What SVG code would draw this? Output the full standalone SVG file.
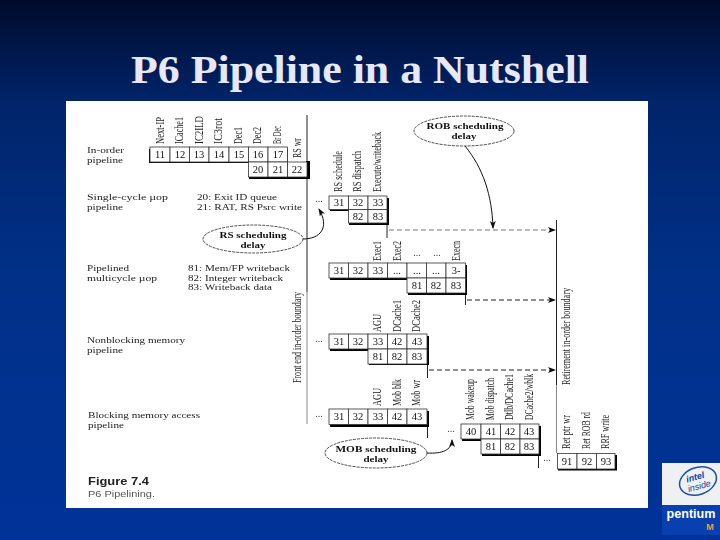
<svg xmlns="http://www.w3.org/2000/svg" width="720" height="540" viewBox="0 0 720 540">
<style>
.l{font-family:"Liberation Serif",serif;font-size:12px;fill:#222}
.r{font-family:"Liberation Serif",serif;font-size:8.700px;fill:#222}
.n{font-family:"Liberation Serif",serif;font-size:10.500px;fill:#111;text-anchor:middle}
.e{font-family:"Liberation Serif",serif;font-size:8.700px;font-weight:bold;fill:#111;text-anchor:middle}
.d{font-family:"Liberation Serif",serif;font-size:10px;fill:#444;text-anchor:middle}
.c{fill:#fff;stroke:#333;stroke-width:.8}
.s{fill:#000}
.line{stroke:#222;stroke-width:1;fill:none}
.grey{stroke:#888;stroke-width:1;fill:none}
.dash{stroke:#222;stroke-width:1;stroke-dasharray:5 3;fill:none}
.dashg{stroke:#777;stroke-width:1;stroke-dasharray:5 3;fill:none}
.curve{stroke:#111;stroke-width:1;fill:none}
.el{fill:#fff;stroke:#222;stroke-width:.8;stroke-dasharray:3 1}
</style>
<defs>
<linearGradient id="bg" x1="0" y1="0" x2="0" y2="1">
<stop offset="0" stop-color="#000b2c"/><stop offset=".19" stop-color="#01246a"/><stop offset=".5" stop-color="#003087"/><stop offset="1" stop-color="#003399"/>
</linearGradient>
<marker id="a" markerWidth="8" markerHeight="6" refX="7" refY="3" orient="auto" markerUnits="userSpaceOnUse"><path d="M0 0L8 3L0 6L2 3Z" fill="#111"/></marker>
<filter id="soft" x="0" y="0" width="1" height="1"><feGaussianBlur stdDeviation=".35"/></filter>
</defs>
<rect width="720" height="540" fill="url(#bg)"/>
<rect x="66" y="101" width="582" height="407" fill="#fff"/>
<text x="360" y="83" text-anchor="middle" font-family="Liberation Serif,serif" font-weight="bold" font-size="41" fill="#e6e8f8" textLength="458" lengthAdjust="spacingAndGlyphs">P6 Pipeline in a Nutshell</text>
<g filter="url(#soft)">
<g id="connectors">
<path class="line" d="M307 115V292"/>
<path class="grey" d="M307 292V424"/>
<path class="line" d="M556.500 220V385"/>
<path class="grey" d="M556.500 385V453"/>
<path class="line" d="M387 223V238M465.500 293V305M427.500 364V378M427.500 425V438M538.500 454V468"/>
<path class="dashg" d="M389 230H555" marker-end="url(#a)"/>
<path class="dash" d="M467 300H555" marker-end="url(#a)"/>
<path class="dash" d="M429 370H555" marker-end="url(#a)"/>
<path class="curve" d="M465 146C483 168 492 195 493 228" marker-end="url(#a)"/>
<path class="curve" d="M303 239C320 239 330 228 319 209" marker-end="url(#a)"/>
<path class="curve" d="M427 453C442 454 452 450 452 440" marker-end="url(#a)"/>
</g>
<g id="labels-left">
<text class="r" x="87" y="153" textLength="37" lengthAdjust="spacingAndGlyphs">In-order</text>
<text class="r" x="87" y="163" textLength="36" lengthAdjust="spacingAndGlyphs">pipeline</text>
<text class="r" x="87" y="200" textLength="81" lengthAdjust="spacingAndGlyphs">Single-cycle µop</text>
<text class="r" x="87" y="210" textLength="36" lengthAdjust="spacingAndGlyphs">pipeline</text>
<text class="r" x="197" y="200" textLength="80" lengthAdjust="spacingAndGlyphs">20: Exit ID queue</text>
<text class="r" x="197" y="210" textLength="105" lengthAdjust="spacingAndGlyphs">21: RAT, RS Psrc write</text>
<text class="r" x="87" y="271" textLength="42" lengthAdjust="spacingAndGlyphs">Pipelined</text>
<text class="r" x="87" y="281" textLength="70" lengthAdjust="spacingAndGlyphs">multicycle µop</text>
<text class="r" x="188" y="271" textLength="102" lengthAdjust="spacingAndGlyphs">81: Mem/FP writeback</text>
<text class="r" x="188" y="280.500" textLength="95" lengthAdjust="spacingAndGlyphs">82: Integer writeback</text>
<text class="r" x="188" y="290" textLength="84" lengthAdjust="spacingAndGlyphs">83: Writeback data</text>
<text class="r" x="87" y="343" textLength="98" lengthAdjust="spacingAndGlyphs">Nonblocking memory</text>
<text class="r" x="87" y="353" textLength="36" lengthAdjust="spacingAndGlyphs">pipeline</text>
<text class="r" x="88" y="418" textLength="112" lengthAdjust="spacingAndGlyphs">Blocking memory access</text>
<text class="r" x="88" y="428" textLength="36" lengthAdjust="spacingAndGlyphs">pipeline</text>
<text x="88" y="485" font-family="Liberation Sans,sans-serif" font-weight="bold" font-size="11" fill="#222" textLength="61" lengthAdjust="spacingAndGlyphs">Figure 7.4</text>
<text x="88" y="497" font-family="Liberation Sans,sans-serif" font-size="9" fill="#555" textLength="67" lengthAdjust="spacingAndGlyphs">P6 Pipelining.</text>
<text class="l" transform="translate(301 383) rotate(-90)" textLength="91" lengthAdjust="spacingAndGlyphs">Front end in-order boundary</text>
<text class="l" transform="translate(570 385) rotate(-90)" textLength="97" lengthAdjust="spacingAndGlyphs">Retirement in-order boundary</text>
</g>
<g id="node-inorder">
<rect class="s" x="149" y="149" width="139" height="14"/><rect class="s" x="249" y="163" width="61" height="16"/>
<rect class="s" x="306" y="161" width="4" height="18"/>
<g><rect class="c" x="150" y="147" width="20" height="15"/><rect class="c" x="170" y="147" width="19.500" height="15"/><rect class="c" x="189.500" y="147" width="19.500" height="15"/><rect class="c" x="209" y="147" width="20" height="15"/><rect class="c" x="229" y="147" width="19.500" height="15"/><rect class="c" x="248.500" y="147" width="19.500" height="15"/><rect class="c" x="268" y="147" width="19.500" height="15"/><rect class="c" x="248.500" y="162" width="19.500" height="15"/><rect class="c" x="268" y="162" width="19.500" height="15"/><rect class="c" x="287.500" y="162" width="19.500" height="15"/></g>
<text class="n" x="160" y="158">11</text><text class="n" x="180" y="158">12</text><text class="n" x="199" y="158">13</text><text class="n" x="219" y="158">14</text><text class="n" x="239" y="158">15</text><text class="n" x="258" y="158">16</text><text class="n" x="278" y="158">17</text>
<text class="n" x="258" y="173">20</text><text class="n" x="278" y="173">21</text><text class="n" x="297" y="173">22</text>
<text class="l" transform="translate(164 144) rotate(-90)" textLength="27" lengthAdjust="spacingAndGlyphs">Next-IP</text>
<text class="l" transform="translate(183 144) rotate(-90)" textLength="27" lengthAdjust="spacingAndGlyphs">ICache1</text>
<text class="l" transform="translate(203 144) rotate(-90)" textLength="28" lengthAdjust="spacingAndGlyphs">IC2ILD</text>
<text class="l" transform="translate(222 144) rotate(-90)" textLength="26" lengthAdjust="spacingAndGlyphs">IC3rot</text>
<text class="l" transform="translate(242 144) rotate(-90)" textLength="17" lengthAdjust="spacingAndGlyphs">Dec1</text>
<text class="l" transform="translate(261 144) rotate(-90)" textLength="17" lengthAdjust="spacingAndGlyphs">Dec2</text>
<text class="l" transform="translate(281 144) rotate(-90)" textLength="18" lengthAdjust="spacingAndGlyphs">Br Dec</text>
<text class="l" transform="translate(301 158) rotate(-90)" textLength="20" lengthAdjust="spacingAndGlyphs">RS wr</text>
</g>
<g id="node-single-cycle">
<text class="d" x="319" y="202">...</text>
<rect class="s" x="330" y="198" width="59" height="13"/><rect class="s" x="349" y="211" width="40" height="14"/>
<rect class="c" x="329" y="196" width="19.500" height="13.500"/><rect class="c" x="348.500" y="196" width="19.500" height="13.500"/><rect class="c" x="368" y="196" width="19" height="13.500"/><rect class="c" x="348.500" y="209.500" width="19.500" height="13.500"/><rect class="c" x="368" y="209.500" width="19" height="13.500"/>
<text class="n" x="339" y="206">31</text><text class="n" x="358" y="206">32</text><text class="n" x="378" y="206">33</text><text class="n" x="358" y="220">82</text><text class="n" x="378" y="220">83</text>
<text class="l" transform="translate(342 192) rotate(-90)" textLength="41" lengthAdjust="spacingAndGlyphs">RS schedule</text>
<text class="l" transform="translate(361 192) rotate(-90)" textLength="41" lengthAdjust="spacingAndGlyphs">RS dispatch</text>
<text class="l" transform="translate(381 192) rotate(-90)" textLength="60" lengthAdjust="spacingAndGlyphs">Execute/writeback</text>
</g>
<g id="node-multicycle">
<rect class="s" x="330" y="265" width="137" height="15"/><rect class="s" x="408" y="278" width="59" height="17"/>
<rect class="c" x="329" y="263" width="19.500" height="15"/><rect class="c" x="348.500" y="263" width="19.500" height="15"/><rect class="c" x="368" y="263" width="19.500" height="15"/><rect class="c" x="387.500" y="263" width="19.500" height="15"/><rect class="c" x="407" y="263" width="19.500" height="15"/><rect class="c" x="426.500" y="263" width="19.500" height="15"/><rect class="c" x="446" y="263" width="19.500" height="15"/><rect class="c" x="407" y="278" width="19.500" height="15"/><rect class="c" x="426.500" y="278" width="19.500" height="15"/><rect class="c" x="446" y="278" width="19.500" height="15"/>
<text class="n" x="339" y="274">31</text><text class="n" x="358" y="274">32</text><text class="n" x="378" y="274">33</text><text class="n" x="397" y="274">...</text><text class="n" x="417" y="274">...</text><text class="n" x="436" y="274">...</text><text class="n" x="456" y="274">3-</text>
<text class="n" x="417" y="289">81</text><text class="n" x="436" y="289">82</text><text class="n" x="456" y="289">83</text>
<text class="l" transform="translate(381 261) rotate(-90)" textLength="20" lengthAdjust="spacingAndGlyphs">Exec1</text>
<text class="l" transform="translate(401 261) rotate(-90)" textLength="20" lengthAdjust="spacingAndGlyphs">Exec2</text>
<text class="d" x="417" y="256">...</text><text class="d" x="437" y="256">...</text>
<text class="l" transform="translate(460 261) rotate(-90)" textLength="20" lengthAdjust="spacingAndGlyphs">Execn</text>
</g>
<g id="node-nonblocking">
<text class="d" x="319" y="342">...</text>
<rect class="s" x="330" y="336" width="99" height="15"/><rect class="s" x="369" y="349" width="60" height="16"/>
<rect class="c" x="329" y="334" width="19.500" height="15"/><rect class="c" x="348.500" y="334" width="19.500" height="15"/><rect class="c" x="368" y="334" width="19.500" height="15"/><rect class="c" x="387.500" y="334" width="19.500" height="15"/><rect class="c" x="407" y="334" width="20" height="15"/><rect class="c" x="368" y="349" width="19.500" height="15"/><rect class="c" x="387.500" y="349" width="19.500" height="15"/><rect class="c" x="407" y="349" width="20" height="15"/>
<text class="n" x="339" y="345">31</text><text class="n" x="358" y="345">32</text><text class="n" x="378" y="345">33</text><text class="n" x="397" y="345">42</text><text class="n" x="417" y="345">43</text>
<text class="n" x="378" y="360">81</text><text class="n" x="397" y="360">82</text><text class="n" x="417" y="360">83</text>
<text class="l" transform="translate(381 332) rotate(-90)" textLength="18" lengthAdjust="spacingAndGlyphs">AGU</text>
<text class="l" transform="translate(401 332) rotate(-90)" textLength="32" lengthAdjust="spacingAndGlyphs">DCache1</text>
<text class="l" transform="translate(420 332) rotate(-90)" textLength="32" lengthAdjust="spacingAndGlyphs">DCache2</text>
</g>
<g id="node-blocking">
<text class="d" x="319" y="417">...</text>
<rect class="s" x="330" y="411" width="99" height="16"/>
<rect class="c" x="329" y="409" width="19.500" height="15.500"/><rect class="c" x="348.500" y="409" width="19.500" height="15.500"/><rect class="c" x="368" y="409" width="19.500" height="15.500"/><rect class="c" x="387.500" y="409" width="19.500" height="15.500"/><rect class="c" x="407" y="409" width="20" height="15.500"/>
<text class="n" x="339" y="420">31</text><text class="n" x="358" y="420">32</text><text class="n" x="378" y="420">33</text><text class="n" x="397" y="420">42</text><text class="n" x="417" y="420">43</text>
<text class="l" transform="translate(381 406) rotate(-90)" textLength="18" lengthAdjust="spacingAndGlyphs">AGU</text>
<text class="l" transform="translate(401 406) rotate(-90)" textLength="27" lengthAdjust="spacingAndGlyphs">Mob blk</text>
<text class="l" transform="translate(420 406) rotate(-90)" textLength="26" lengthAdjust="spacingAndGlyphs">Mob wr</text>
</g>
<g id="node-mob">
<text class="d" x="451" y="432">...</text>
<rect class="s" x="462" y="426" width="79" height="15"/><rect class="s" x="482" y="439" width="59" height="17"/>
<rect class="c" x="461" y="424" width="20" height="15"/><rect class="c" x="481" y="424" width="19.500" height="15"/><rect class="c" x="500.500" y="424" width="19.500" height="15"/><rect class="c" x="520" y="424" width="19" height="15"/><rect class="c" x="481" y="439" width="19.500" height="15"/><rect class="c" x="500.500" y="439" width="19.500" height="15"/><rect class="c" x="520" y="439" width="19" height="15"/>
<text class="n" x="471" y="435">40</text><text class="n" x="491" y="435">41</text><text class="n" x="510" y="435">42</text><text class="n" x="529" y="435">43</text>
<text class="n" x="491" y="450">81</text><text class="n" x="510" y="450">82</text><text class="n" x="529" y="450">83</text>
<text class="l" transform="translate(474 420) rotate(-90)" textLength="41" lengthAdjust="spacingAndGlyphs">Mob wakeup</text>
<text class="l" transform="translate(494 420) rotate(-90)" textLength="42" lengthAdjust="spacingAndGlyphs">Mob dispatch</text>
<text class="l" transform="translate(513 420) rotate(-90)" textLength="46" lengthAdjust="spacingAndGlyphs">Dtlb/DCache1</text>
<text class="l" transform="translate(533 420) rotate(-90)" textLength="46" lengthAdjust="spacingAndGlyphs">DCache2/wblk</text>
</g>
<g id="node-retire">
<text class="d" x="547" y="461">...</text>
<rect class="s" x="558" y="455" width="59" height="15.500"/>
<rect class="c" x="557.500" y="453.500" width="19.500" height="15.500"/><rect class="c" x="577" y="453.500" width="19.500" height="15.500"/><rect class="c" x="596.500" y="453.500" width="18.500" height="15.500"/>
<text class="n" x="567" y="465">91</text><text class="n" x="587" y="465">92</text><text class="n" x="606" y="465">93</text>
<text class="l" transform="translate(570 449) rotate(-90)" textLength="34" lengthAdjust="spacingAndGlyphs">Ret ptr wr</text>
<text class="l" transform="translate(590 449) rotate(-90)" textLength="37" lengthAdjust="spacingAndGlyphs">Ret ROB rd</text>
<text class="l" transform="translate(609 449) rotate(-90)" textLength="34" lengthAdjust="spacingAndGlyphs">RRF write</text>
</g>
<g id="node-rob-delay"><ellipse class="el" cx="464" cy="131" rx="50" ry="15"/><text class="e" x="465" y="129" textLength="77" lengthAdjust="spacingAndGlyphs">ROB scheduling</text><text class="e" x="464" y="139" textLength="25" lengthAdjust="spacingAndGlyphs">delay</text></g>
<g id="node-rs-delay"><ellipse class="el" cx="253" cy="239" rx="50" ry="14"/><text class="e" x="253" y="238" textLength="67" lengthAdjust="spacingAndGlyphs">RS scheduling</text><text class="e" x="253" y="248" textLength="25" lengthAdjust="spacingAndGlyphs">delay</text></g>
<g id="node-mob-delay"><ellipse class="el" cx="376" cy="453" rx="51" ry="15"/><text class="e" x="376" y="452" textLength="81" lengthAdjust="spacingAndGlyphs">MOB scheduling</text><text class="e" x="376" y="462" textLength="25" lengthAdjust="spacingAndGlyphs">delay</text></g>
</g>
<g id="logo">
<rect x="662" y="463" width="58" height="42" fill="#eef0f2"/>
<rect x="662" y="505" width="58" height="30" fill="#0a3fb0"/>
<ellipse cx="698" cy="481" rx="19" ry="13.500" fill="none" stroke="#1a4fa8" stroke-width="1.500" transform="rotate(-20 698 481)"/>
<text x="696" y="480" text-anchor="middle" font-family="Liberation Sans,sans-serif" font-style="italic" font-weight="bold" font-size="9" fill="#123f9c" transform="rotate(-15 696 480)">intel</text>
<text x="700" y="489" text-anchor="middle" font-family="Liberation Sans,sans-serif" font-style="italic" font-size="9" fill="#123f9c" transform="rotate(-15 700 489)">inside</text>
<text x="691" y="518" text-anchor="middle" font-family="Liberation Sans,sans-serif" font-weight="bold" font-size="12.500" fill="#fff" textLength="49" lengthAdjust="spacingAndGlyphs">pentium</text>
<text x="710" y="530" text-anchor="middle" font-family="Liberation Sans,sans-serif" font-weight="bold" font-size="9" fill="#e8a040">M</text>
</g>
</svg>
